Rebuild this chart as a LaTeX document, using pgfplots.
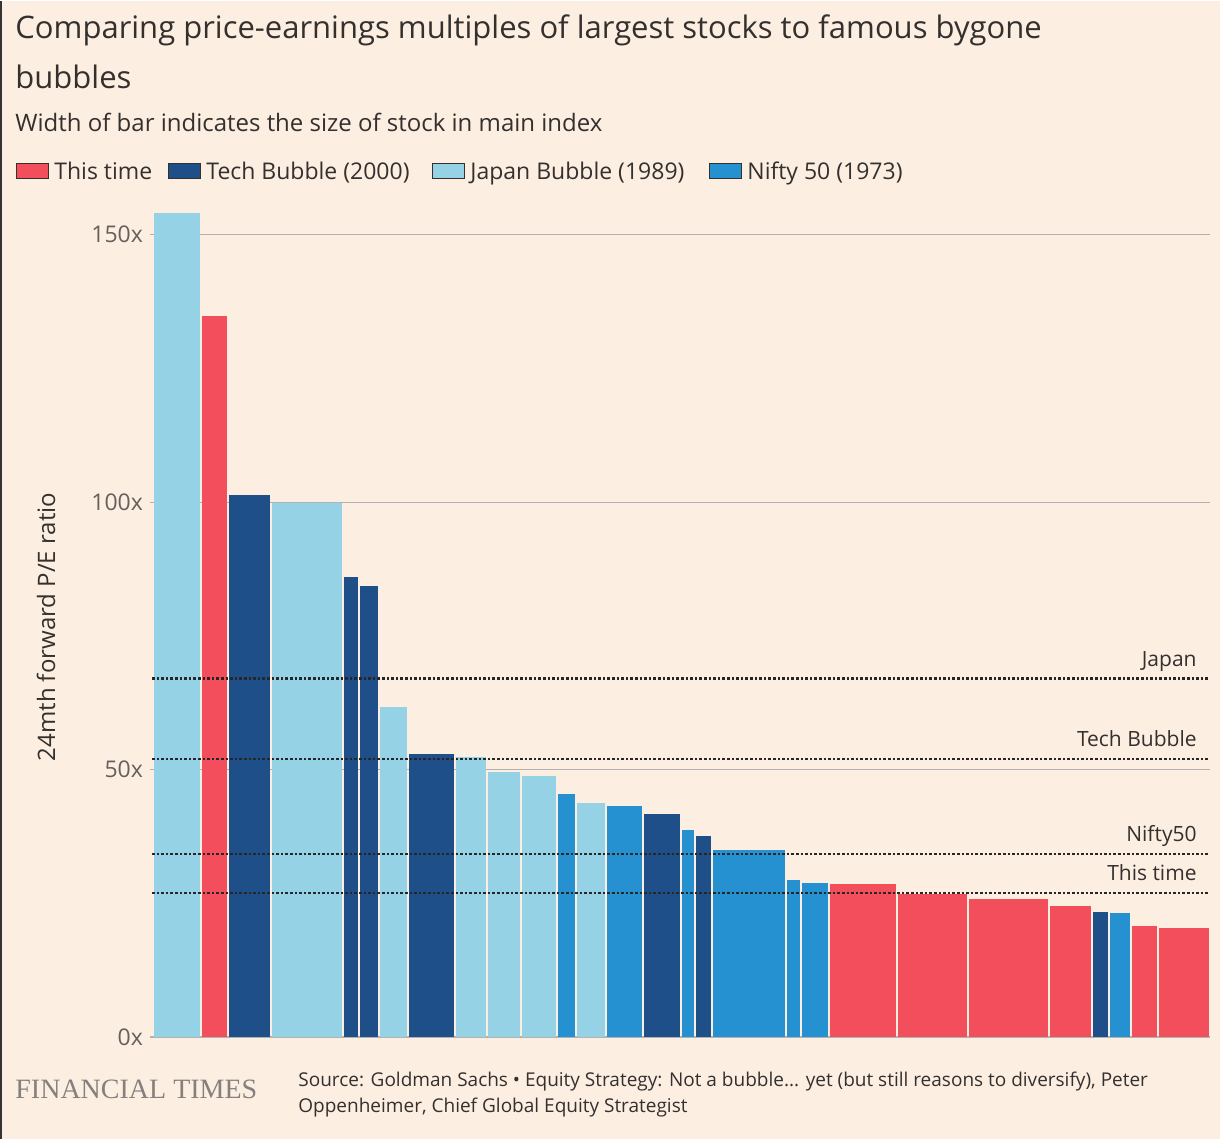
\documentclass[border=0pt]{standalone}
\usepackage{pgfplots}
\pgfplotsset{compat=1.18}
\usepackage{fontspec}
\setmainfont{Open Sans}
\newfontfamily\ftserif{Liberation Serif}
\definecolor{bg}{HTML}{FDEEE2}
\definecolor{cred}{HTML}{F24E5B}
\definecolor{ctech}{HTML}{1F4F88}
\definecolor{cjap}{HTML}{96D2E5}
\definecolor{cnif}{HTML}{2591D0}
\definecolor{txt}{HTML}{33302E}
\definecolor{gtx}{HTML}{66605C}
\newcommand{\pbar}[4]{\addplot[fill=#1,draw=none] coordinates {(#2,0)(#2,#4)(#3,#4)(#3,0)} -- cycle;}
\begin{document}
\begin{tikzpicture}[x=1pt,y=1pt]
\fill[bg] (0,0) rectangle (610,569);
\draw[black!80,line width=1pt] (0.5,0) -- (0.5,569);
\node[anchor=base west,font=\fontsize{15.5}{18}\selectfont,text=txt,inner sep=0] at (7.5,550) {Comparing price-earnings multiples of largest stocks to famous bygone};
\node[anchor=base west,font=\fontsize{15.5}{18}\selectfont,text=txt,inner sep=0] at (7.5,525) {bubbles};
\node[anchor=base west,font=\fontsize{12}{14}\selectfont,text=txt,inner sep=0] at (7.5,503.5) {Width of bar indicates the size of stock in main index};
% legend
\begin{scope}[font=\fontsize{11.5}{14}\selectfont]
\filldraw[fill=cred,draw=txt,line width=0.5pt] (8,480) rectangle (24,487.5);
\node[anchor=base west,inner sep=0,text=txt] at (27,479.5) {This time};
\filldraw[fill=ctech,draw=txt,line width=0.5pt] (84,480) rectangle (100,487.5);
\node[anchor=base west,inner sep=0,text=txt] at (103,479.5) {Tech Bubble (2000)};
\filldraw[fill=cjap,draw=txt,line width=0.5pt] (216,480) rectangle (232,487.5);
\node[anchor=base west,inner sep=0,text=txt] at (235,479.5) {Japan Bubble (1989)};
\filldraw[fill=cnif,draw=txt,line width=0.5pt] (354.5,480) rectangle (370.5,487.5);
\node[anchor=base west,inner sep=0,text=txt] at (373.5,479.5) {Nifty 50 (1973)};
\end{scope}
\node[rotate=90,font=\fontsize{12}{14}\selectfont,text=txt] at (23,256) {24mth forward P/E ratio};
\begin{axis}[at={(75pt,51pt)},anchor=south west,scale only axis,
 width=530pt,height=414.5pt,xmin=150,xmax=1210,ymin=0,ymax=155,
 axis lines=none,clip=false,
 ytick={0,50,100,150},yticklabel={\pgfmathprintnumber{\tick}x},
 /pgf/number format/assume math mode=true,
 yticklabel style={font=\fontsize{11.5}{14}\selectfont,text=gtx,xshift=-4pt},
 ymajorgrids,grid style={black!30,line width=0.5pt},xtick=\empty,
 every axis plot/.append style={}]
\draw[black!30,line width=0.5pt] (axis cs:150,0) -- (axis cs:1210,0);
\draw[black!30,line width=0.5pt] (axis cs:150,50) -- (axis cs:1210,50);
\draw[black!30,line width=0.5pt] (axis cs:150,100) -- (axis cs:1210,100);
\draw[black!30,line width=0.5pt] (axis cs:150,150) -- (axis cs:1210,150);
\node[anchor=east,font=\fontsize{11.5}{14}\selectfont,text=gtx] at (axis cs:150,0) {0x};
\node[anchor=east,font=\fontsize{11.5}{14}\selectfont,text=gtx] at (axis cs:150,50) {50x};
\node[anchor=east,font=\fontsize{11.5}{14}\selectfont,text=gtx] at (axis cs:150,100) {100x};
\node[anchor=east,font=\fontsize{11.5}{14}\selectfont,text=gtx] at (axis cs:150,150) {150x};
\pbar{cjap}{154}{200}{154.1}
\pbar{cred}{202}{227}{134.8}
\pbar{ctech}{229}{270}{101.4}
\pbar{cjap}{272}{342}{99.9}
\pbar{ctech}{344}{358}{86.0}
\pbar{ctech}{360}{378}{84.3}
\pbar{cjap}{380}{407}{61.7}
\pbar{ctech}{409}{454}{52.9}
\pbar{cjap}{456}{486}{52.4}
\pbar{cjap}{488}{520}{49.6}
\pbar{cjap}{522}{556}{48.8}
\pbar{cnif}{558}{575}{45.4}
\pbar{cjap}{577}{605}{43.8}
\pbar{cnif}{607}{642}{43.2}
\pbar{ctech}{644}{680}{41.7}
\pbar{cnif}{682}{694}{38.7}
\pbar{ctech}{696}{711}{37.6}
\pbar{cnif}{713}{785}{35.0}
\pbar{cnif}{787}{800}{29.4}
\pbar{cnif}{802}{828}{28.8}
\pbar{cred}{830}{896}{28.6}
\pbar{cred}{898}{967}{26.7}
\pbar{cred}{969}{1048}{25.8}
\pbar{cred}{1050}{1091}{24.5}
\pbar{ctech}{1093}{1108}{23.4}
\pbar{cnif}{1110}{1130}{23.2}
\pbar{cred}{1132}{1157}{20.8}
\pbar{cred}{1159}{1209}{20.4}
\addplot[black!85,densely dotted,line width=1.3pt] coordinates {(152,67.0)(1208,67.0)};
\addplot[black!85,densely dotted,line width=1.3pt] coordinates {(152,52.0)(1208,52.0)};
\addplot[black!85,densely dotted,line width=1.3pt] coordinates {(152,34.2)(1208,34.2)};
\addplot[black!85,densely dotted,line width=1.3pt] coordinates {(152,26.9)(1208,26.9)};
\node[anchor=base east,inner sep=0,font=\fontsize{10.5}{12}\selectfont,text=txt] at (axis cs:1197,69.3) {Japan};
\node[anchor=base east,inner sep=0,font=\fontsize{10.5}{12}\selectfont,text=txt] at (axis cs:1197,54.3) {Tech Bubble};
\node[anchor=base east,inner sep=0,font=\fontsize{10.5}{12}\selectfont,text=txt] at (axis cs:1197,36.5) {Nifty50};
\node[anchor=base east,inner sep=0,font=\fontsize{10.5}{12}\selectfont,text=txt] at (axis cs:1197,29.2) {This time};
\end{axis}
\node[anchor=base west,inner sep=0,font=\ftserif\fontsize{14}{16}\selectfont,text=gtx!80] at (7.5,20.5) {FINANCIAL TIMES};
\node[anchor=base west,inner sep=0,font=\fontsize{9.5}{12}\selectfont,text=txt] at (149,26.5) {Source: Goldman Sachs • Equity Strategy: Not a bubble... yet (but still reasons to diversify), Peter};
\node[anchor=base west,inner sep=0,font=\fontsize{9.5}{12}\selectfont,text=txt] at (149,13.5) {Oppenheimer, Chief Global Equity Strategist};
\end{tikzpicture}
\end{document}
